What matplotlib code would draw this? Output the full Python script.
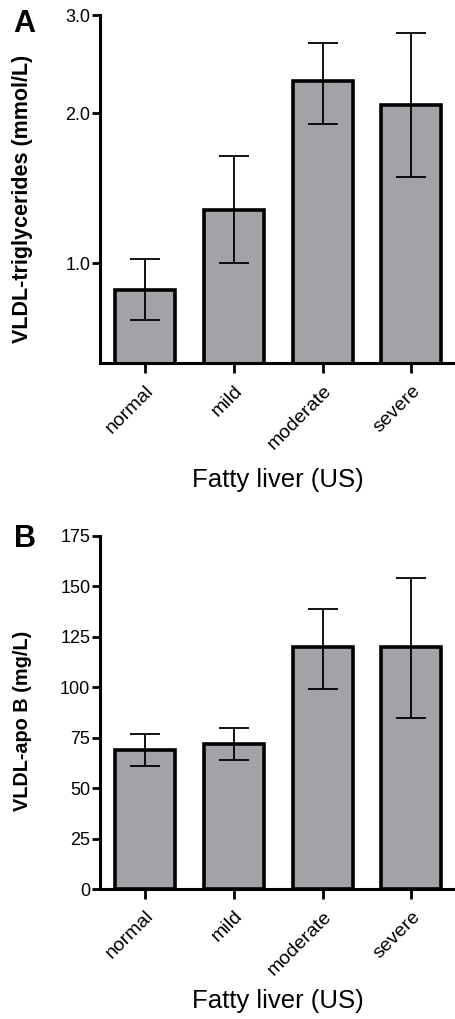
import matplotlib
matplotlib.use('Agg')
import matplotlib.pyplot as plt
import numpy as np

plt.rcParams['font.family'] = ['Liberation Sans', 'DejaVu Sans']

categories = ['normal', 'mild', 'moderate', 'severe']

tg_mean = [0.87, 1.30, 2.29, 2.07]
tg_low = [0.74, 1.00, 1.91, 1.51]
tg_high = [1.02, 1.66, 2.68, 2.79]
tg_ticks = [1.0, 2.0, 3.0]
tg_ticklabels = ['1.0', '2.0', '3.0']

apob_mean = [69, 72, 120, 120]
apob_low = [61, 64, 99, 85]
apob_high = [77, 80, 139, 154]
apob_ticks = [0, 25, 50, 75, 100, 125, 150, 175]

OFFSET = 0.47


def fwd(v):
    return np.log10(np.clip(np.asarray(v, dtype=float) + OFFSET, 1e-9, None))


def inv(y):
    return 10 ** np.asarray(y, dtype=float) - OFFSET


W, H = 455, 1019
fig = plt.figure(figsize=(W / 100, H / 100), dpi=100)

BAR_COLOR = '#a3a2a7'


def style_axes(ax):
    for s in ['top', 'right']:
        ax.spines[s].set_visible(False)
    for s in ['left', 'bottom']:
        ax.spines[s].set_linewidth(2.2)
    ax.tick_params(axis='y', direction='out', length=6, width=2.0,
                   labelsize=13, pad=1)
    ax.tick_params(axis='x', direction='out', length=7.5, width=2.0,
                   labelsize=14, pad=6)


def draw_panel(ax, mean, low, high):
    x = np.arange(len(categories))
    mean = np.array(mean, float)
    low = np.array(low, float)
    high = np.array(high, float)
    ax.bar(x, mean, width=0.675, color=BAR_COLOR, edgecolor='black',
           linewidth=2.6, zorder=2)
    ax.errorbar(x, mean, yerr=[mean - low, high - mean], fmt='none',
                ecolor='black', elinewidth=1.3, capsize=11, capthick=1.3,
                zorder=3)
    ax.set_xlim(-0.505, 3.49)
    ax.set_xticks(x)
    ax.set_xticklabels(categories, rotation=45, ha='right', va='top',
                       rotation_mode='anchor')
    ax.set_xlabel('Fatty liver (US)', fontsize=18.5, va='top')


# Panel A
A_bot, A_top = 363.3, 15
axA = fig.add_axes([100 / W, 1 - A_bot / H, 1 - 100 / W, (A_bot - A_top) / H])
axA.set_yscale('function', functions=(fwd, inv))
draw_panel(axA, tg_mean, tg_low, tg_high)
axA.set_ylim(0.57, 3.0)
axA.set_yticks(tg_ticks)
axA.set_yticklabels(tg_ticklabels)
axA.yaxis.set_minor_locator(matplotlib.ticker.NullLocator())
axA.set_ylabel('VLDL-triglycerides (mmol/L)', fontsize=15.5,
               fontweight='bold', va='bottom')
style_axes(axA)
axA.yaxis.set_label_coords((33 - 100) / 355, (A_bot - 199) / (A_bot - A_top))
axA.xaxis.set_label_coords(0.5, (A_bot - 468) / (A_bot - A_top))

# Panel B
B_bot, B_top = 889, 536
axB = fig.add_axes([100 / W, 1 - B_bot / H, 1 - 100 / W, (B_bot - B_top) / H])
draw_panel(axB, apob_mean, apob_low, apob_high)
axB.set_ylim(0, 175)
axB.set_yticks(apob_ticks)
axB.set_ylabel('VLDL-apo B (mg/L)', fontsize=14.3, fontweight='bold',
               va='bottom')
style_axes(axB)
axB.yaxis.set_label_coords((32 - 100) / 355, (B_bot - 721) / (B_bot - B_top))
axB.xaxis.set_label_coords(0.5, (B_bot - 989) / (B_bot - B_top))

fig.text(24 / W, 1 - 24 / H, 'A', fontsize=22, fontweight='bold',
         ha='center', va='center')
fig.text(25 / W, 1 - 539 / H, 'B', fontsize=22, fontweight='bold',
         ha='center', va='center')

fig.savefig('out.png', dpi=100)
